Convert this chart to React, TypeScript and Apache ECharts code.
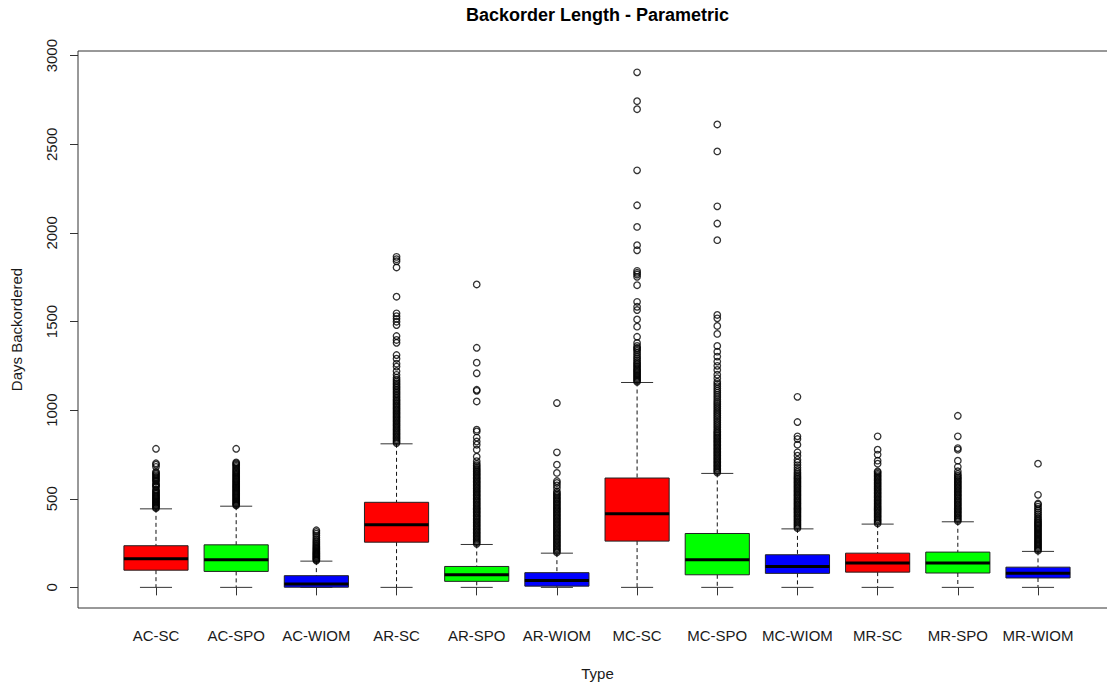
import React, { useEffect, useRef } from "react";
import * as echarts from "echarts";

const categories = ["AC-SC", "AC-SPO", "AC-WIOM", "AR-SC", "AR-SPO", "AR-WIOM", "MC-SC", "MC-SPO", "MC-WIOM", "MR-SC", "MR-SPO", "MR-WIOM"];
const boxColors = ["#FF0000", "#00FF00", "#0000FF", "#FF0000", "#00FF00", "#0000FF", "#FF0000", "#00FF00", "#0000FF", "#FF0000", "#00FF00", "#0000FF"];

const lowerWhisker = [0, 0, 0, 0, 0, 0, 0, 0, 0, 0, 0, 0];
const q1 = [97, 90, 1, 255, 34, 7, 261, 71, 79, 86, 81, 53];
const median = [161, 156, 19, 353, 71, 39, 415, 156, 118, 137, 137, 79];
const q3 = [235, 240, 66, 480, 118, 83, 617, 304, 184, 193, 199, 114];
const upperWhisker = [443, 458, 148, 810, 242, 193, 1156, 643, 330, 357, 370, 203];

const outAC_SC = [447, 452, 458, 463, 469, 475, 480, 486, 492, 498, 503, 509, 515, 520, 527, 533, 539, 546, 552, 566, 572, 579, 585, 597, 604, 611, 618, 625, 632, 639, 646, 652, 680, 692, 700, 782];
const outAC_SPO = [462, 467, 473, 479, 485, 491, 497, 503, 509, 515, 521, 527, 533, 539, 545, 551, 557, 563, 569, 575, 581, 588, 594, 600, 607, 613, 620, 627, 634, 641, 648, 655, 662, 670, 678, 686, 693, 699, 705, 782];
const outAC_WIOM = [151, 156, 161, 166, 171, 176, 181, 186, 191, 196, 201, 207, 213, 219, 225, 232, 239, 246, 254, 262, 271, 281, 292, 303, 313, 322];
const outAR_SC = [814, 822, 830, 838, 846, 854, 862, 870, 878, 886, 894, 902, 910, 918, 926, 934, 942, 950, 958, 966, 974, 982, 990, 998, 1006, 1014, 1022, 1030, 1038, 1046, 1054, 1062, 1071, 1080, 1089, 1098, 1107, 1116, 1125, 1134, 1143, 1152, 1162, 1172, 1183, 1199, 1220, 1246, 1262, 1290, 1311, 1380, 1396, 1418, 1480, 1499, 1515, 1530, 1546, 1640, 1805, 1840, 1852, 1865];
const outAR_SPO = [246, 254, 262, 270, 278, 286, 294, 302, 310, 318, 326, 334, 342, 350, 358, 366, 374, 382, 390, 398, 406, 414, 422, 430, 438, 446, 454, 462, 470, 478, 486, 494, 502, 510, 518, 526, 534, 542, 550, 558, 566, 574, 582, 590, 598, 606, 614, 622, 630, 638, 646, 654, 662, 670, 679, 688, 697, 712, 737, 777, 805, 823, 845, 880, 890, 1049, 1109, 1115, 1208, 1268, 1352, 1709];
const outAR_WIOM = [197, 205, 213, 221, 229, 237, 245, 253, 261, 269, 277, 285, 293, 301, 309, 317, 325, 333, 341, 349, 357, 365, 373, 381, 389, 397, 405, 413, 421, 429, 437, 445, 453, 461, 469, 477, 485, 493, 501, 509, 517, 525, 533, 542, 560, 575, 589, 600, 646, 692, 762, 1040];
const outMC_SC = [1160, 1167, 1174, 1181, 1188, 1195, 1202, 1209, 1216, 1223, 1230, 1238, 1246, 1254, 1262, 1270, 1280, 1290, 1300, 1312, 1324, 1336, 1345, 1352, 1362, 1379, 1414, 1471, 1512, 1565, 1583, 1611, 1705, 1752, 1765, 1775, 1786, 1902, 1931, 2034, 2156, 2353, 2698, 2743, 2906];
const outMC_SPO = [648, 656, 664, 672, 680, 688, 696, 704, 712, 720, 728, 736, 744, 752, 760, 768, 776, 784, 792, 800, 808, 816, 824, 832, 840, 848, 856, 864, 872, 880, 890, 900, 910, 920, 930, 940, 950, 960, 970, 980, 990, 1000, 1010, 1020, 1030, 1040, 1050, 1062, 1074, 1086, 1098, 1110, 1122, 1135, 1148, 1160, 1180, 1200, 1227, 1250, 1274, 1302, 1330, 1362, 1430, 1475, 1518, 1537, 1959, 2053, 2150, 2460, 2612];
const outMC_WIOM = [334, 342, 350, 358, 366, 374, 382, 390, 398, 406, 414, 422, 430, 438, 446, 454, 462, 470, 478, 486, 494, 502, 510, 518, 526, 534, 542, 550, 558, 566, 574, 582, 590, 598, 606, 614, 622, 630, 640, 650, 662, 675, 690, 705, 720, 743, 762, 805, 837, 852, 933, 1075];
const outMR_SC = [361, 369, 377, 385, 393, 401, 409, 417, 425, 433, 441, 449, 457, 465, 473, 481, 489, 497, 505, 513, 521, 529, 537, 545, 553, 561, 569, 577, 585, 593, 601, 609, 617, 625, 633, 641, 649, 655, 698, 715, 749, 777, 852];
const outMR_SPO = [374, 382, 390, 398, 406, 414, 422, 430, 438, 446, 454, 462, 470, 478, 486, 494, 502, 510, 518, 526, 534, 542, 550, 558, 566, 574, 582, 590, 598, 606, 614, 622, 630, 640, 655, 680, 715, 777, 786, 852, 968];
const outMR_WIOM = [207, 214, 221, 228, 235, 242, 249, 256, 263, 270, 277, 284, 291, 298, 305, 312, 319, 326, 333, 340, 347, 354, 361, 368, 375, 383, 392, 402, 412, 422, 433, 444, 455, 467, 473, 522, 698];

const outliers = [outAC_SC, outAC_SPO, outAC_WIOM, outAR_SC, outAR_SPO, outAR_WIOM, outMC_SC, outMC_SPO, outMC_WIOM, outMR_SC, outMR_SPO, outMR_WIOM];

const yTicks = [0, 500, 1000, 1500, 2000, 2500, 3000];

const FONT = "'Liberation Sans', Arial, Helvetica, sans-serif";

export default function App() {
  const ref = useRef<HTMLDivElement>(null);
  useEffect(() => {
    if (!ref.current) return;
    const chart = echarts.init(ref.current, null, { renderer: "svg" });

    const boxData = categories.map((_, i) => [i, lowerWhisker[i], q1[i], median[i], q3[i], upperWhisker[i]]);
    const outData: number[][] = [];
    outliers.forEach((arr, i) => arr.forEach((v) => outData.push([i, v])));

    const gridLeft = 115.9;
    const gridWidth = 962.2;
    const gridTop = 51;
    const gridHeight = 557;
    const frameLeft = 78;

    chart.setOption({
      animation: false,
      backgroundColor: "#ffffff",
      textStyle: { fontFamily: FONT },
      grid: { left: gridLeft, top: gridTop, width: gridWidth, height: gridHeight, containLabel: false },
      xAxis: {
        type: "category",
        data: categories,
        boundaryGap: true,
        axisLine: { show: false },
        axisTick: { show: true, alignWithLabel: true, length: 8, lineStyle: { color: "#333", width: 1 } },
        axisLabel: { color: "#1a1a1a", fontSize: 15, fontFamily: FONT, margin: 20, interval: 0 },
        splitLine: { show: false },
      },
      yAxis: {
        type: "value",
        min: -116.4,
        max: 3026.4,
        offset: gridLeft - frameLeft,
        axisLine: { show: false },
        axisTick: { show: true, length: 8, customValues: yTicks, lineStyle: { color: "#333", width: 1 } },
        axisLabel: {
          customValues: yTicks,
          rotate: 90,
          color: "#1a1a1a",
          fontSize: 15,
          fontFamily: FONT,
          margin: 19,
          formatter: (v: number) => String(v),
        },
        splitLine: { show: false },
      },
      graphic: [
        {
          type: "rect",
          shape: { x: frameLeft, y: gridTop, width: 1117 - frameLeft, height: gridHeight },
          style: { fill: "none", stroke: "#333", lineWidth: 1 },
          silent: true,
          z: 10,
        },
        {
          type: "text",
          x: 597.5,
          y: 15,
          style: { text: "Backorder Length - Parametric", font: `bold 18px ${FONT}`, fill: "#000", textAlign: "center", textVerticalAlign: "middle" },
        },
        {
          type: "text",
          x: 597.5,
          y: 673,
          style: { text: "Type", font: `15px ${FONT}`, fill: "#1a1a1a", textAlign: "center", textVerticalAlign: "middle" },
        },
        {
          type: "text",
          x: 16.5,
          y: 329.5,
          rotation: Math.PI / 2,
          style: { text: "Days Backordered", font: `15px ${FONT}`, fill: "#1a1a1a", textAlign: "center", textVerticalAlign: "middle" },
        },
      ],
      series: [
        {
          type: "custom",
          data: boxData,
          encode: { x: 0, y: [1, 2, 3, 4, 5] },
          z: 2,
          renderItem: (params: any, api: any) => {
            const idx = api.value(0);
            const x = api.coord([idx, 0])[0];
            const band = api.size([1, 0])[0];
            const bw = band * 0.8;
            const cw = band * 0.4;
            const yLo = api.coord([idx, api.value(1)])[1];
            const yQ1 = api.coord([idx, api.value(2)])[1];
            const yMed = api.coord([idx, api.value(3)])[1];
            const yQ3 = api.coord([idx, api.value(4)])[1];
            const yHi = api.coord([idx, api.value(5)])[1];
            const dash = { stroke: "#111", lineWidth: 1, lineDash: [4, 3] };
            const cap = { stroke: "#333", lineWidth: 1 };
            return {
              type: "group",
              children: [
                { type: "line", shape: { x1: x, y1: yHi, x2: x, y2: yQ3 }, style: dash },
                { type: "line", shape: { x1: x, y1: yQ1, x2: x, y2: yLo }, style: dash },
                { type: "line", shape: { x1: x - cw / 2, y1: yHi, x2: x + cw / 2, y2: yHi }, style: cap },
                { type: "line", shape: { x1: x - cw / 2, y1: yLo, x2: x + cw / 2, y2: yLo }, style: cap },
                {
                  type: "rect",
                  shape: { x: x - bw / 2, y: yQ3, width: bw, height: yQ1 - yQ3 },
                  style: { fill: boxColors[idx], stroke: "#222", lineWidth: 1 },
                },
                { type: "line", shape: { x1: x - bw / 2, y1: yMed, x2: x + bw / 2, y2: yMed }, style: { stroke: "#000", lineWidth: 3 } },
              ],
            };
          },
        },
        {
          type: "scatter",
          data: outData,
          symbol: "circle",
          symbolSize: 6.5,
          z: 3,
          itemStyle: { color: "rgba(0,0,0,0)", borderColor: "#000", borderWidth: 1.3 },
          emphasis: { disabled: true },
        },
      ],
    });

    return () => chart.dispose();
  }, []);

  return <div ref={ref} style={{ position: "fixed", left: 0, top: 0, width: 1107, height: 686 }} />;
}
